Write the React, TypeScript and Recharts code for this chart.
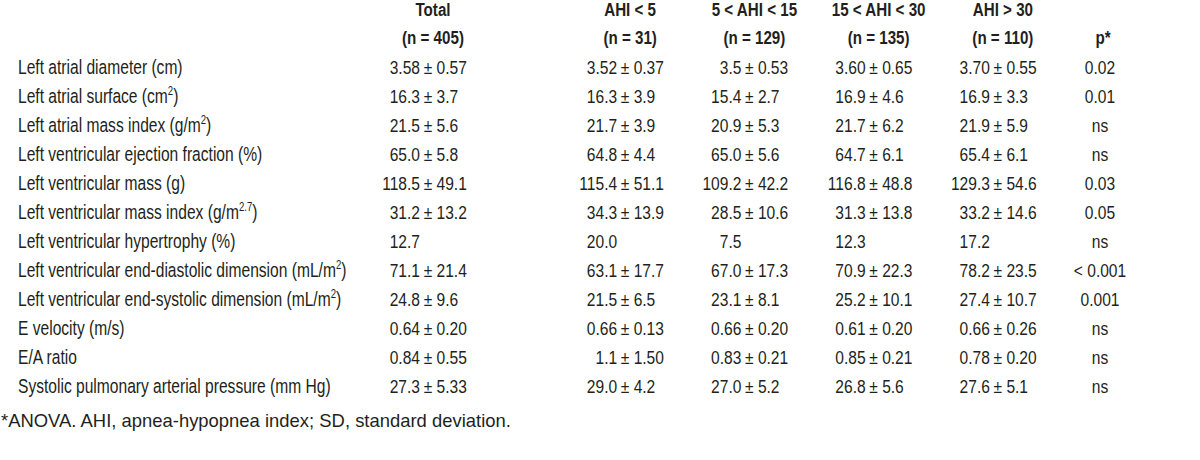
import React from 'react';
import { ScatterChart, Scatter, XAxis, YAxis } from 'recharts';

// row labels, ^{..} marks a superscript
const rowLabels = [
  'Left atrial diameter (cm)',
  'Left atrial surface (cm^{2})',
  'Left atrial mass index (g/m^{2})',
  'Left ventricular ejection fraction (%)',
  'Left ventricular mass (g)',
  'Left ventricular mass index (g/m^{2.7})',
  'Left ventricular hypertrophy (%)',
  'Left ventricular end-diastolic dimension (mL/m^{2})',
  'Left ventricular end-systolic dimension (mL/m^{2})',
  'E velocity (m/s)',
  'E/A ratio',
  'Systolic pulmonary arterial pressure (mm Hg)',
];

const totalName = 'Total';
const totalCount = '(n = 405)';
const groupNames = ['AHI < 5', '5 < AHI < 15', '15 < AHI < 30', 'AHI > 30'];
const groupCounts = ['(n = 31)', '(n = 129)', '(n = 135)', '(n = 110)'];
const pName = 'p*';

const totalValues = ['3.58 ± 0.57', '16.3 ± 3.7', '21.5 ± 5.6', '65.0 ± 5.8', '118.5 ± 49.1', '31.2 ± 13.2', '12.7', '71.1 ± 21.4', '24.8 ± 9.6', '0.64 ± 0.20', '0.84 ± 0.55', '27.3 ± 5.33'];
const ahiUnder5 = ['3.52 ± 0.37', '16.3 ± 3.9', '21.7 ± 3.9', '64.8 ± 4.4', '115.4 ± 51.1', '34.3 ± 13.9', '20.0', '63.1 ± 17.7', '21.5 ± 6.5', '0.66 ± 0.13', '1.1 ± 1.50', '29.0 ± 4.2'];
const ahi5to15 = ['3.5 ± 0.53', '15.4 ± 2.7', '20.9 ± 5.3', '65.0 ± 5.6', '109.2 ± 42.2', '28.5 ± 10.6', '7.5', '67.0 ± 17.3', '23.1 ± 8.1', '0.66 ± 0.20', '0.83 ± 0.21', '27.0 ± 5.2'];
const ahi15to30 = ['3.60 ± 0.65', '16.9 ± 4.6', '21.7 ± 6.2', '64.7 ± 6.1', '116.8 ± 48.8', '31.3 ± 13.8', '12.3', '70.9 ± 22.3', '25.2 ± 10.1', '0.61 ± 0.20', '0.85 ± 0.21', '26.8 ± 5.6'];
const ahiOver30 = ['3.70 ± 0.55', '16.9 ± 3.3', '21.9 ± 5.9', '65.4 ± 6.1', '129.3 ± 54.6', '33.2 ± 14.6', '17.2', '78.2 ± 23.5', '27.4 ± 10.7', '0.66 ± 0.26', '0.78 ± 0.20', '27.6 ± 5.1'];
const pValues = ['0.02', '0.01', 'ns', 'ns', '0.03', '0.05', 'ns', '< 0.001', '0.001', 'ns', 'ns', 'ns'];

const footnote = '*ANOVA. AHI, apnea-hypopnea index; SD, standard deviation.';

const groupValues = [ahiUnder5, ahi5to15, ahi15to30, ahiOver30];
const headerCounts: Record<string, string> = { [totalName]: totalCount };
groupNames.forEach((g, i) => (headerCounts[g] = groupCounts[i]));

// narrow sans: Liberation Sans squeezed horizontally
const FONT = "'Liberation Sans', Arial, sans-serif";
const INK = '#231f20';

const column = (col: string, values: string[]) =>
  rowLabels.map((row, i) => ({ row, col, text: values[i] }));

const Narrow = ({ x, y, sx, anchor = 'start', size = 19, bold = false, children }: any) => (
  <text
    transform={`translate(${x},${y}) scale(${sx},1)`}
    textAnchor={anchor}
    fill={INK}
    fontSize={size}
    fontFamily={FONT}
    fontWeight={bold ? 'bold' : 'normal'}
  >
    {children}
  </text>
);

const renderLabel = (label: string) => {
  const parts = label.split(/\^\{([^}]*)\}/);
  return parts.map((p, i) =>
    i % 2 === 1 ? (
      <tspan key={i} fontSize={12} dy={-8}>{p}</tspan>
    ) : (
      <tspan key={i} dy={i > 0 ? 8 : 0}>{p}</tspan>
    )
  );
};

const RowTick = (props: any) => {
  const { y, payload } = props;
  return (
    <Narrow x={18} y={y + 7} sx={0.8} size={19.5}>
      {renderLabel(payload.value)}
    </Narrow>
  );
};

const HeaderTick = (props: any) => {
  const { x, payload } = props;
  const count = headerCounts[payload.value];
  return (
    <g>
      <Narrow x={x + 3} y={16} sx={0.82} size={18.5} bold anchor="middle">{count ? payload.value : ''}</Narrow>
      <Narrow x={x + 3} y={44} sx={0.82} size={18.5} bold anchor="middle">{count || payload.value}</Narrow>
    </g>
  );
};

// mean right-aligned, "± sd" after it, so the ± signs line up down a column
const ValueCell = (props: any) => {
  const { cx, cy, payload } = props;
  if (cx == null || cy == null) return null;
  const [mean, sd] = String(payload.text).split('±').map((s) => s.trim());
  return (
    <g>
      <Narrow x={cx - 10} y={cy + 7} sx={0.82} anchor="end">{mean}</Narrow>
      {sd && <Narrow x={cx - 2} y={cy + 7} sx={0.82} anchor="middle">±</Narrow>}
      {sd && <Narrow x={cx + 6.5} y={cy + 7} sx={0.82}>{sd}</Narrow>}
    </g>
  );
};

const PCell = (props: any) => {
  const { cx, cy, payload } = props;
  if (cx == null || cy == null) return null;
  return <Narrow x={cx} y={cy + 7} sx={0.82} anchor="middle">{payload.text}</Narrow>;
};

export default function App() {
  return (
    <div style={{ position: 'absolute', left: 0, top: 0, width: 1200, height: 460, background: '#fff' }}>
      <ScatterChart width={1200} height={460} margin={{ top: 0, right: 0, bottom: 60, left: 0 }}>
        <YAxis
          type="category"
          dataKey="row"
          width={370}
          reversed
          allowDuplicatedCategory={false}
          axisLine={false}
          tickLine={false}
          interval={0}
          tick={<RowTick />}
        />
        <XAxis
          xAxisId="total"
          type="category"
          dataKey="col"
          orientation="top"
          height={52}
          allowDuplicatedCategory={false}
          padding={{ left: 0, right: 710 }}
          axisLine={false}
          tickLine={false}
          interval={0}
          tick={<HeaderTick />}
        />
        <XAxis
          xAxisId="groups"
          type="category"
          dataKey="col"
          orientation="top"
          mirror
          allowDuplicatedCategory={false}
          padding={{ left: 195, right: 138 }}
          axisLine={false}
          tickLine={false}
          interval={0}
          tick={<HeaderTick />}
        />
        <XAxis
          xAxisId="p"
          type="category"
          dataKey="col"
          orientation="top"
          mirror
          allowDuplicatedCategory={false}
          padding={{ left: 690, right: 60 }}
          axisLine={false}
          tickLine={false}
          interval={0}
          tick={<HeaderTick />}
        />
        <Scatter xAxisId="total" data={column(totalName, totalValues)} shape={<ValueCell />} isAnimationActive={false} />
        {groupNames.map((g, i) => (
          <Scatter key={g} xAxisId="groups" data={column(g, groupValues[i])} shape={<ValueCell />} isAnimationActive={false} />
        ))}
        <Scatter xAxisId="p" data={column(pName, pValues)} shape={<PCell />} isAnimationActive={false} />
      </ScatterChart>
      <div
        style={{
          position: 'absolute',
          left: 1,
          top: 410,
          fontFamily: FONT,
          fontSize: 19,
          color: INK,
          lineHeight: '22px',
          whiteSpace: 'nowrap',
          transform: 'scaleX(0.97)',
          transformOrigin: '0 0',
        }}
      >
        {footnote}
      </div>
    </div>
  );
}
